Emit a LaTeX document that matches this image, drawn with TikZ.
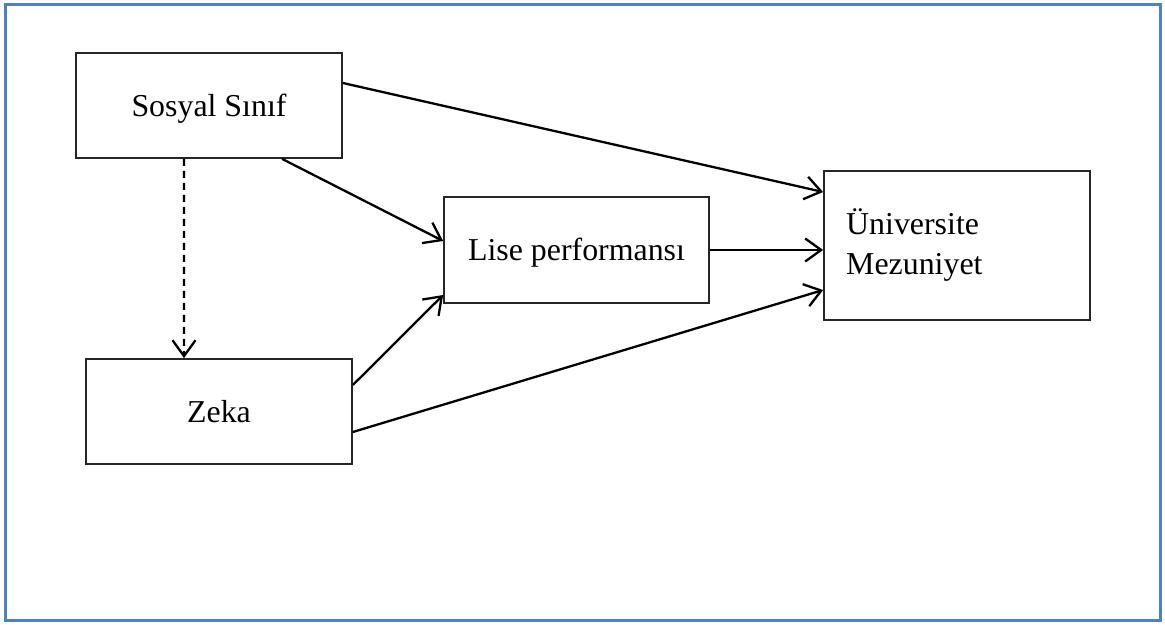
\documentclass[tikz,border=0pt]{standalone}
\usepackage{fontspec}
\setmainfont{Liberation Serif}
\usetikzlibrary{arrows.meta}
\definecolor{frameblue}{HTML}{4F81BD}
\begin{document}
\begin{tikzpicture}[x=1bp,y=-1bp,
  box/.style={draw=black!85, line width=1.7bp, rectangle, inner sep=0pt,
    font=\fontsize{32}{38}\selectfont, text height=22bp, text depth=0bp},
  txt/.style={font=\fontsize{32}{38}\selectfont, inner sep=0pt, anchor=base west},
  link/.style={line width=2.3bp, -{Straight Barb[length=16bp, width=23bp, line width=2.3bp]}},
  dlink/.style={link, dash pattern=on 7bp off 5bp}]
  \useasboundingbox (0,0) rectangle (1165,625);
  % outer frame
  \draw[frameblue, line width=3.5bp] (5.5,4.5) rectangle (1160.5,620.5);

  % boxes
  \node[box, minimum width=266bp, minimum height=105bp] (sos) at (209,105.5) {Sosyal Sınıf};
  \node[box, minimum width=266bp, minimum height=105bp] (zek) at (219,411.5) {Zeka};
  \node[box, minimum width=265bp, minimum height=106bp] (lis) at (576.5,250) {Lise performansı};
  \node[box, minimum width=266bp, minimum height=149bp] (uni) at (957,245.5) {};
  \node[txt] (uni1) at (846,235) {Üniversite};
  \node[txt] (uni2) at (846,275) {Mezuniyet};

  % connectors
  \draw[link] ([yshift=22.5bp]sos.east) -- ([yshift=53.5bp]uni.west);
  \draw[link] ([xshift=73bp]sos.south) -- ([yshift=9bp]lis.west);
  \draw[dlink] ([xshift=-25bp]sos.south) -- ([xshift=-35bp]zek.north);
  \draw[link] ([yshift=26.5bp]zek.east) -- ([yshift=-45bp]lis.west);
  \draw[link] ([yshift=-20.5bp]zek.east) -- ([yshift=-44.5bp]uni.west);
  \draw[link] (lis.east) -- (lis.east -| uni.west);
\end{tikzpicture}
\end{document}
